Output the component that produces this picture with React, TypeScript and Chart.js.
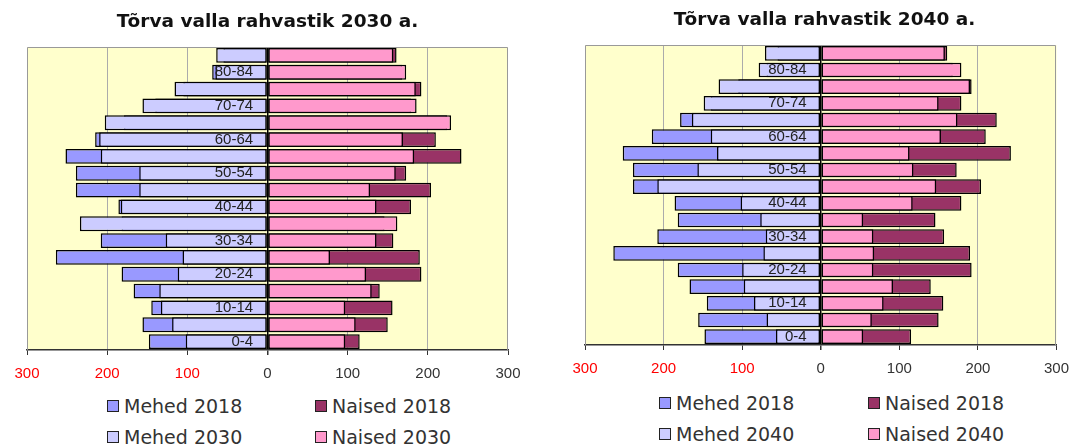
import React, { useEffect, useRef } from 'react';
import { Chart, registerables } from 'chart.js';

Chart.register(...registerables);

// ---------- data ----------
const ageGroups = ['0-4', '5-9', '10-14', '15-19', '20-24', '25-29', '30-34', '35-39', '40-44', '45-49', '50-54', '55-59', '60-64', '65-69', '70-74', '75-79', '80-84', '85+'];
const men2018 = [148, 156, 145, 167, 182, 264, 208, 182, 186, 239, 239, 252, 215, 179, 140, 105, 69, 55];
const women2018 = [115, 150, 156, 140, 192, 190, 157, 146, 179, 204, 173, 242, 210, 224, 179, 192, 168, 161];
const men2030 = [102, 119, 133, 135, 112, 106, 127, 234, 183, 160, 160, 208, 210, 203, 156, 116, 65, 64];
const women2030 = [97, 110, 97, 130, 123, 78, 136, 162, 136, 128, 160, 183, 169, 229, 186, 185, 173, 157];
const men2040 = [57, 69, 85, 98, 100, 73, 70, 77, 102, 208, 157, 132, 140, 164, 149, 130, 79, 71];
const women2040 = [54, 65, 80, 92, 67, 68, 67, 54, 117, 147, 118, 113, 153, 174, 150, 190, 179, 158];
const axisMin = -300;
const axisMax = 300;
const axisStep = 100;
const labelAnchor = -18; // value where the age labels end (just left of zero)

const COL_M18 = '#9999FF';
const COL_MNEW = '#CCCCFF';
const COL_F18 = '#993366';
const COL_FNEW = '#FF99CC';

const H = 390;
const TITLE_SIZE = 18.5;

type Area = { left: number; right: number; top: number; bottom: number };

const plotDecor = {
  id: 'plotDecor',
  beforeDraw(chart: any) {
    const { ctx, chartArea: a } = chart;
    ctx.save();
    ctx.fillStyle = '#FFFFCC';
    ctx.fillRect(a.left, a.top, a.right - a.left, a.bottom - a.top);
    ctx.restore();
  },
  afterDraw(chart: any) {
    const { ctx, chartArea: a } = chart;
    ctx.save();
    ctx.strokeStyle = '#999999';
    ctx.lineWidth = 1;
    ctx.beginPath();
    ctx.moveTo(Math.round(a.left) + 0.5, a.bottom);
    ctx.lineTo(Math.round(a.left) + 0.5, Math.round(a.top) + 0.5);
    ctx.lineTo(Math.round(a.right) - 0.5, Math.round(a.top) + 0.5);
    ctx.lineTo(Math.round(a.right) - 0.5, a.bottom);
    ctx.stroke();
    ctx.restore();
  },
};

function Pyramid(props: {
  title: string;
  year: string;
  menNew: number[];
  womenNew: number[];
  canvasLeft: number;
  canvasWidth: number;
  area: Area;
  titleY: number;
}) {
  const ref = useRef<HTMLCanvasElement>(null);
  const { title, year, menNew, womenNew, canvasLeft, canvasWidth, area, titleY } = props;

  useEffect(() => {
    if (!ref.current) return;
    const lh = TITLE_SIZE * 1.2;
    const barOpts = {
      borderColor: '#000',
      borderWidth: 1.5,
      borderSkipped: false as const,
      grouped: false,
      categoryPercentage: 1,
      barPercentage: 0.88,
    };
    const chart = new Chart(ref.current, {
      type: 'bar',
      data: {
        labels: ageGroups,
        datasets: [
          { label: 'Mehed 2018', data: men2018.map((v) => -v), backgroundColor: COL_M18, order: 1, ...barOpts },
          { label: 'Naised 2018', data: women2018, backgroundColor: COL_F18, order: 1, ...barOpts },
          { label: 'Mehed ' + year, data: menNew.map((v) => -v), backgroundColor: COL_MNEW, order: 0, ...barOpts },
          { label: 'Naised ' + year, data: womenNew, backgroundColor: COL_FNEW, order: 0, ...barOpts },
        ],
      },
      options: {
        indexAxis: 'y',
        responsive: false,
        animation: false,
        layout: {
          padding: {
            left: area.left - canvasLeft,
            right: canvasLeft + canvasWidth - area.right,
            top: 0,
            bottom: 0,
          },
        },
        plugins: {
          legend: { display: false },
          tooltip: { enabled: false },
          title: {
            display: true,
            text: title,
            color: '#111',
            font: { family: "'DejaVu Sans', Verdana, sans-serif", size: TITLE_SIZE, weight: 'bold' },
            padding: { top: titleY - lh / 2, bottom: area.top - titleY - lh / 2 },
          },
        },
        scales: {
          x: {
            type: 'linear',
            position: 'bottom',
            min: axisMin,
            max: axisMax,
            afterFit: (s: any) => {
              s.height = H - area.bottom;
            },
            ticks: {
              stepSize: axisStep,
              padding: 10,
              callback: (v: any) => String(Math.abs(Number(v))),
              color: (c: any) => (c.tick && c.tick.value < 0 ? '#FF0000' : '#333'),
              font: { family: "'Liberation Sans', Arial, sans-serif", size: 15 },
            },
            grid: {
              color: (c: any) => {
                const v = c.tick ? c.tick.value : 0;
                if (v === 0) return '#000';
                return Math.abs(v) === 300 ? 'rgba(0,0,0,0)' : '#ababab';
              },
              lineWidth: (c: any) => (c.tick && c.tick.value === 0 ? 1.5 : 1),
              tickColor: '#333',
              tickLength: 5,
            },
            border: { display: true, color: '#333', width: 1.5 },
          },
          y: {
            type: 'category',
            reverse: true,
            position: { x: labelAnchor } as any,
            grid: { display: false, drawTicks: false },
            border: { display: false },
            ticks: {
              z: 2,
              autoSkip: false,
              padding: 0,
              color: '#222',
              font: { family: "'Liberation Sans', Arial, sans-serif", size: 15 },
              callback: (_v: any, i: number) => (i % 2 === 0 ? ageGroups[i] : ''),
            },
          },
        },
      } as any,
      plugins: [plotDecor],
    });
    return () => chart.destroy();
  }, []);

  return (
    <canvas
      ref={ref}
      width={canvasWidth}
      height={H}
      style={{ position: 'absolute', left: canvasLeft, top: 0, width: canvasWidth, height: H }}
    />
  );
}

function Legend(props: { year: string; x1: number; x2: number; y1: number; y2: number }) {
  const { year, x1, x2, y1, y2 } = props;
  const items = [
    { label: 'Mehed 2018', color: COL_M18, x: x1, y: y1 },
    { label: 'Naised 2018', color: COL_F18, x: x2, y: y1 },
    { label: 'Mehed ' + year, color: COL_MNEW, x: x1, y: y2 },
    { label: 'Naised ' + year, color: COL_FNEW, x: x2, y: y2 },
  ];
  return (
    <>
      {items.map((it) => (
        <div
          key={it.label}
          style={{
            position: 'absolute',
            left: it.x,
            top: it.y - 12,
            height: 24,
            display: 'flex',
            alignItems: 'center',
            whiteSpace: 'nowrap',
            fontFamily: "'DejaVu Sans', Verdana, sans-serif",
            fontSize: 19,
            color: '#333',
          }}
        >
          <span
            style={{
              display: 'inline-block',
              width: 10,
              height: 10,
              background: it.color,
              border: '1px solid #222',
              marginRight: 5,
            }}
          />
          {it.label}
        </div>
      ))}
    </>
  );
}

export default function App() {
  return (
    <div style={{ position: 'absolute', left: 0, top: 0, width: 1079, height: 445, overflow: 'hidden', background: '#fff' }}>
      <Pyramid
        title="Tõrva valla rahvastik 2030 a."
        year="2030"
        menNew={men2030}
        womenNew={women2030}
        canvasLeft={0}
        canvasWidth={540}
        area={{ left: 27, right: 508, top: 47, bottom: 350 }}
        titleY={22}
      />
      <Pyramid
        title="Tõrva valla rahvastik 2040 a."
        year="2040"
        menNew={men2040}
        womenNew={women2040}
        canvasLeft={540}
        canvasWidth={539}
        area={{ left: 585, right: 1064, top: 45, bottom: 345 }}
        titleY={20}
      />
      <Legend year="2030" x1={107} x2={315} y1={406} y2={437} />
      <Legend year="2040" x1={659} x2={868} y1={403} y2={434} />
    </div>
  );
}
